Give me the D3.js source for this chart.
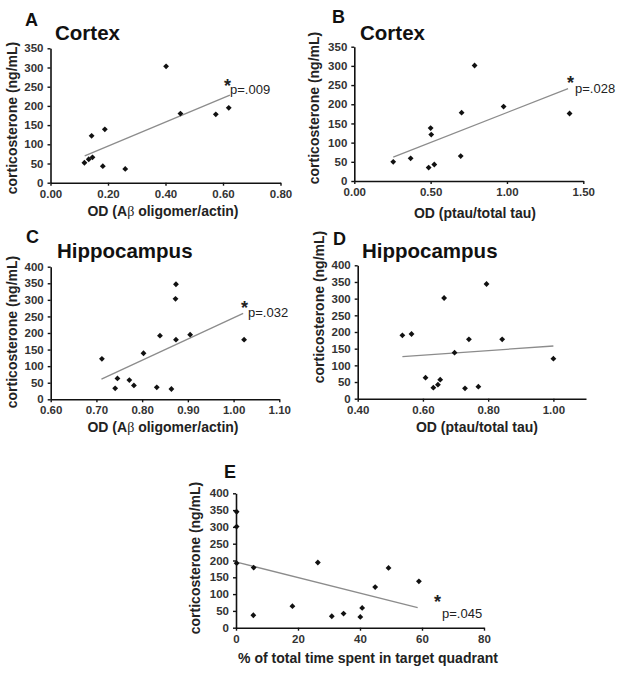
<!DOCTYPE html>
<html>
<head>
<meta charset="utf-8">
<script src="https://cdn.jsdelivr.net/npm/d3@7/dist/d3.min.js"></script>
<style>
  html, body { margin: 0; padding: 0; background: #fff; }
  svg { display: block; }
  text { font-family: "Liberation Sans", Arial, sans-serif; }
</style>
</head>
<body>
<svg id="chart" width="624" height="675"></svg>
<script>
// ---------- DATA ----------
// Panel A: Cortex, OD (Aβ oligomer/actin)
const aX = [0.118, 0.133, 0.146, 0.143, 0.189, 0.182, 0.26, 0.402, 0.452, 0.575, 0.62];
const aY = [52, 61, 66, 122, 139, 43, 36, 303, 180, 178, 195];
const aTrend = [[0.119, 70], [0.624, 228]];
// Panel B: Cortex, OD (ptau/total tau)
const bX = [0.255, 0.369, 0.487, 0.524, 0.50, 0.504, 0.697, 0.703, 0.788, 0.978, 1.41];
const bY = [50, 59, 35, 43, 138, 121, 65, 178, 301, 194, 176];
const bTrend = [[0.255, 62], [1.40, 241]];
// Panel C: Hippocampus, OD (Aβ oligomer/actin)
const cX = [0.712, 0.741, 0.746, 0.772, 0.782, 0.803, 0.832, 0.839, 0.864, 0.874, 0.873, 0.874, 0.905, 1.023];
const cY = [122, 33, 63, 58, 42, 139, 36, 192, 31, 347, 303, 180, 195, 180];
const cTrend = [[0.711, 61], [1.021, 259]];
// Panel D: Hippocampus, OD (ptau/total tau)
const dX = [0.537, 0.565, 0.608, 0.632, 0.646, 0.653, 0.665, 0.697, 0.729, 0.741, 0.770, 0.795, 0.843, 1.0];
const dY = [190, 194, 63, 33, 42, 57, 302, 138, 31, 178, 36, 344, 178, 120];
const dTrend = [[0.537, 126], [1.0, 158]];
// Panel E: % of total time spent in target quadrant
const eX = [0.2, 0.2, 0.2, 5.7, 5.6, 18.2, 26.4, 30.9, 34.7, 40.1, 40.7, 44.9, 49.2, 59.0];
const eY = [345, 301, 192, 179, 37, 64, 194, 34, 42, 32, 59, 121, 178, 138];
const eTrend = [[0.2, 195], [58.6, 60]];

// Axis ticks
const xTicksA = [0, 0.2, 0.4, 0.6, 0.8];
const xTicksB = [0, 0.5, 1.0, 1.5];
const xTicksC = [0.6, 0.7, 0.8, 0.9, 1.0, 1.1];
const xTicksD = [0.4, 0.6, 0.8, 1.0];
const xTicksE = [0, 20, 40, 60, 80];
const yTicks350 = [0, 50, 100, 150, 200, 250, 300, 350];
const yTicks400 = [0, 50, 100, 150, 200, 250, 300, 350, 400];

// Labels
const yLabel = "corticosterone (ng/mL)";
const letters = ["A", "B", "C", "D", "E"];
const titles = ["Cortex", "Cortex", "Hippocampus", "Hippocampus", ""];
const pValues = ["p=.009", "p=.028", "p=.032", null, "p=.045"];

// ---------- LAYOUT ----------
const panels = [
  { x: aX, y: aY, trend: aTrend, xDom: [0, 0.8], yDom: [0, 350], xTicks: xTicksA, yTicks: yTicks350, fmt: d3.format(".2f"),
    px: [50.5, 280.5], py: [182.7, 48.3], letter: [25, 26], title: [55, 40], ylab: [12, 118], xlab: [163, 216],
    p: [230, 94], star: [224, 92], xlabel: "ab" },
  { x: bX, y: bY, trend: bTrend, xDom: [0, 1.5], yDom: [0, 350], xTicks: xTicksB, yTicks: yTicks350, fmt: d3.format(".2f"),
    px: [354.3, 583.3], py: [181, 46.7], letter: [332, 23], title: [360, 40], ylab: [314, 108], xlab: [475, 218],
    p: [575, 93], star: [567, 89], xlabel: "OD (ptau/total tau)" },
  { x: cX, y: cY, trend: cTrend, xDom: [0.6, 1.1], yDom: [0, 400], xTicks: xTicksC, yTicks: yTicks400, fmt: d3.format(".2f"),
    px: [50.7, 279.3], py: [399.3, 266.7], letter: [26, 243], title: [57, 258], ylab: [12, 332], xlab: [163, 432],
    p: [248, 317], star: [241, 314], xlabel: "ab" },
  { x: dX, y: dY, trend: dTrend, xDom: [0.4, 1.1], yDom: [0, 400], xTicks: xTicksD, yTicks: yTicks400, fmt: d3.format(".2f"),
    px: [357.7, 586], py: [398.7, 265.3], letter: [333, 245], title: [362, 258], ylab: [319, 307], xlab: [477, 432],
    p: null, star: null, xlabel: "OD (ptau/total tau)" },
  { x: eX, y: eY, trend: eTrend, xDom: [0, 80], yDom: [0, 400], xTicks: xTicksE, yTicks: yTicks400, fmt: d3.format("d"),
    px: [236, 484], py: [627.7, 493.3], letter: [224, 478], title: null, ylab: [195, 558], xlab: [368, 663],
    p: [442, 618], star: [434, 608], xlabel: "% of total time spent in target quadrant" }
];

const svg = d3.select("#chart");
const marker = d3.symbol().type(d3.symbolSquare).size(17);

panels.forEach((P, i) => {
  const xs = d3.scaleLinear().domain(P.xDom).range(P.px);
  const ys = d3.scaleLinear().domain(P.yDom).range(P.py);
  const g = svg.append("g");

  // axes
  const yAx = g.append("g").attr("transform", `translate(${P.px[0]},0)`)
    .call(d3.axisLeft(ys).tickValues(P.yTicks).tickSize(3).tickSizeOuter(0).tickPadding(4).tickFormat(d3.format("d")));
  const xAx = g.append("g").attr("transform", `translate(0,${P.py[0]})`)
    .call(d3.axisBottom(xs).tickValues(P.xTicks).tickSize(3).tickSizeOuter(0).tickPadding(4).tickFormat(P.fmt));
  [yAx, xAx].forEach(ax => {
    ax.select(".domain").attr("stroke", "#111").attr("stroke-width", 1.6);
    ax.selectAll(".tick line").attr("stroke", "#111").attr("stroke-width", 1.4);
    ax.selectAll(".tick text").attr("fill", "#333").attr("font-size", 11.5).attr("font-weight", "bold")
      .attr("font-family", "'Liberation Sans', Arial, sans-serif");
  });

  // trend line
  g.append("line")
    .attr("x1", xs(P.trend[0][0])).attr("y1", ys(P.trend[0][1]))
    .attr("x2", xs(P.trend[1][0])).attr("y2", ys(P.trend[1][1]))
    .attr("stroke", "#8c8c8c").attr("stroke-width", 1.3);

  // points
  g.selectAll("path.pt").data(P.x.map((v, k) => [v, P.y[k]])).enter().append("path")
    .attr("class", "pt").attr("d", marker)
    .attr("transform", d => `translate(${xs(d[0])},${ys(d[1])}) rotate(45)`)
    .attr("fill", "#111");

  // panel letter
  g.append("text").attr("x", P.letter[0]).attr("y", P.letter[1])
    .attr("font-size", 18).attr("font-weight", "bold").attr("fill", "#111").text(letters[i]);
  // title
  if (P.title) {
    g.append("text").attr("x", P.title[0]).attr("y", P.title[1])
      .attr("font-size", 20.5).attr("font-weight", "bold").attr("fill", "#111").text(titles[i]);
  }
  // y label
  g.append("text").attr("transform", `translate(${P.ylab[0]},${P.ylab[1]}) rotate(-90)`)
    .attr("text-anchor", "middle").attr("dominant-baseline", "central")
    .attr("font-size", 14).attr("font-weight", "bold").attr("fill", "#222").text(yLabel);
  // x label
  const xl = g.append("text").attr("x", P.xlab[0]).attr("y", P.xlab[1])
    .attr("text-anchor", "middle").attr("font-size", 14).attr("font-weight", "bold").attr("fill", "#222");
  if (P.xlabel === "ab") {
    xl.append("tspan").text("OD (A");
    xl.append("tspan").attr("font-family", "'Liberation Serif', 'DejaVu Serif', serif").attr("font-weight", "normal").text("β");
    xl.append("tspan").text(" oligomer/actin)");
  } else {
    xl.text(P.xlabel);
  }
  // p-value
  if (P.p) {
    g.append("text").attr("x", P.star[0]).attr("y", P.star[1])
      .attr("font-size", 18).attr("font-weight", "bold").attr("fill", "#222").text("*");
    g.append("text").attr("x", P.p[0]).attr("y", P.p[1])
      .attr("font-size", 13).attr("fill", "#222").text(pValues[i]);
  }
});
</script>
</body>
</html>
